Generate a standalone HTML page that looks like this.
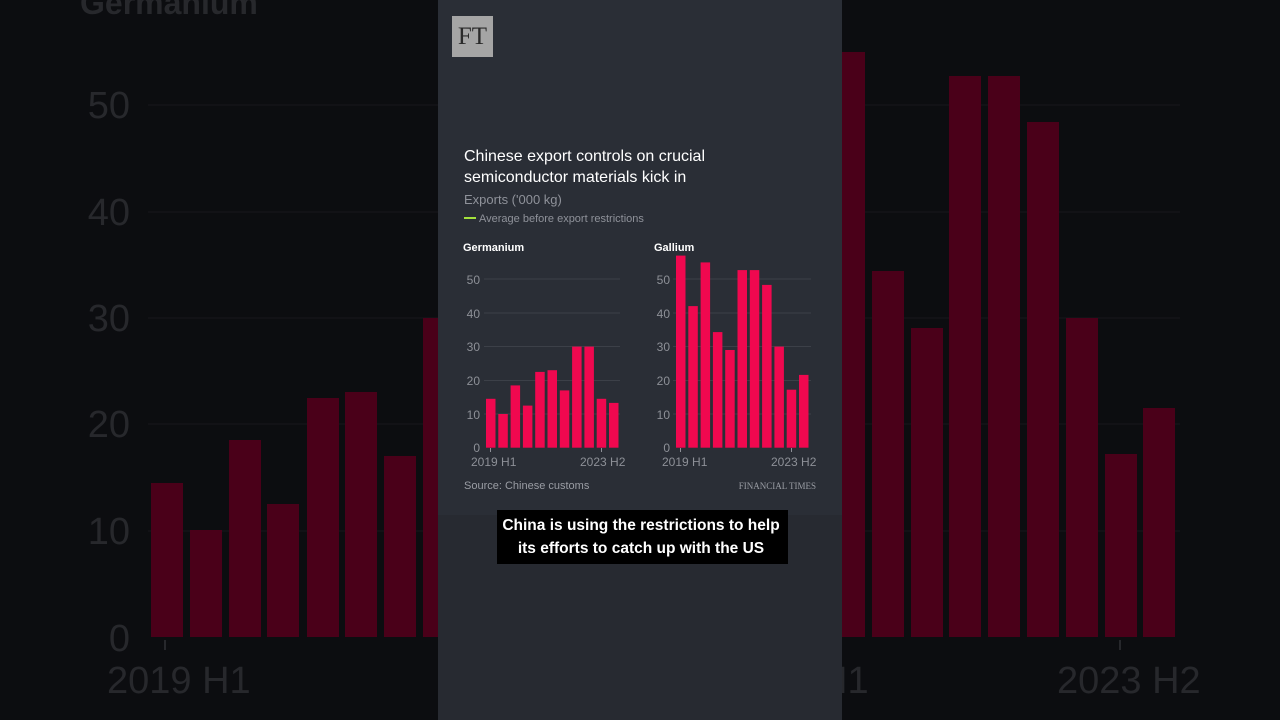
<!DOCTYPE html>
<html><head><meta charset="utf-8"><style>
html,body{margin:0;padding:0;background:#0c0d10;}
svg{display:block;font-family:"Liberation Sans",sans-serif;}
</style></head><body>
<svg width="1280" height="720" viewBox="0 0 1280 720" xmlns="http://www.w3.org/2000/svg">
<rect width="1280" height="720" fill="#0c0d10"/>
<g stroke="#17181b" stroke-width="1">
<line x1="148" x2="438" y1="105" y2="105"/><line x1="148" x2="438" y1="212" y2="212"/><line x1="148" x2="438" y1="318" y2="318"/><line x1="148" x2="438" y1="424" y2="424"/><line x1="148" x2="438" y1="531" y2="531"/>
<line x1="842" x2="1180" y1="105" y2="105"/><line x1="842" x2="1180" y1="212" y2="212"/><line x1="842" x2="1180" y1="318" y2="318"/><line x1="842" x2="1180" y1="424" y2="424"/><line x1="842" x2="1180" y1="531" y2="531"/>
</g>
<g fill="#27282c" font-size="38">
<text x="130" y="118" text-anchor="end">50</text>
<text x="130" y="225" text-anchor="end">40</text>
<text x="130" y="331" text-anchor="end">30</text>
<text x="130" y="437" text-anchor="end">20</text>
<text x="130" y="544" text-anchor="end">10</text>
<text x="130" y="651" text-anchor="end">0</text>
<text x="107" y="693">2019 H1</text>
<text x="1057" y="693">2023 H2</text>
<text x="820" y="693">H1</text>
<text x="80" y="14" font-weight="bold" font-size="32">Germanium</text>
</g>
<g fill="#4a0019">
<rect x="151" y="483" width="32" height="154"/>
<rect x="190" y="530" width="32" height="107"/>
<rect x="229" y="440" width="32" height="197"/>
<rect x="267" y="504" width="32" height="133"/>
<rect x="307" y="398" width="32" height="239"/>
<rect x="345" y="392" width="32" height="245"/>
<rect x="384" y="456" width="32" height="181"/>
<rect x="423" y="318" width="32" height="319"/>
<rect x="833" y="52" width="32" height="585"/>
<rect x="872" y="271" width="32" height="366"/>
<rect x="911" y="328" width="32" height="309"/>
<rect x="949" y="76" width="32" height="561"/>
<rect x="988" y="76" width="32" height="561"/>
<rect x="1027" y="122" width="32" height="515"/>
<rect x="1066" y="318" width="32" height="319"/>
<rect x="1105" y="454" width="32" height="183"/>
<rect x="1143" y="408" width="32" height="229"/>
</g>
<rect x="164" y="640" width="2" height="10" fill="#27282c"/>
<rect x="1119" y="640" width="2" height="10" fill="#27282c"/>
<rect x="438" y="0" width="404" height="720" fill="#272a31"/>
<rect x="438" y="0" width="404" height="515" fill="#2a2e36"/>
<rect x="452" y="16" width="41" height="41" fill="#a5a5a5"/>
<text x="472.5" y="44" text-anchor="middle" font-family="'Liberation Serif',serif" font-size="25" fill="#2a2a2a">FT</text>
<g fill="#ffffff" font-size="16">
<text x="464" y="161">Chinese export controls on crucial</text>
<text x="464" y="182">semiconductor materials kick in</text>
</g>
<text x="464" y="204" font-size="13" fill="#8f929a">Exports ('000 kg)</text>
<rect x="464" y="217" width="12" height="2" fill="#a3e13c"/>
<text x="479" y="222" font-size="11" fill="#8f929a">Average before export restrictions</text>
<text x="463" y="251" font-size="11" font-weight="bold" fill="#ffffff">Germanium</text>
<text x="654" y="251" font-size="11" font-weight="bold" fill="#ffffff">Gallium</text>
<g stroke="#3c4048" stroke-width="1">
<line x1="484" x2="620" y1="279" y2="279"/><line x1="484" x2="620" y1="313" y2="313"/><line x1="484" x2="620" y1="346.5" y2="346.5"/><line x1="484" x2="620" y1="380.5" y2="380.5"/><line x1="484" x2="620" y1="414" y2="414"/>
<line x1="673" x2="811" y1="279" y2="279"/><line x1="673" x2="811" y1="313" y2="313"/><line x1="673" x2="811" y1="346.5" y2="346.5"/><line x1="673" x2="811" y1="380.5" y2="380.5"/><line x1="673" x2="811" y1="414" y2="414"/>
</g>
<g fill="#8d9097" font-size="12">
<text x="480" y="284" text-anchor="end">50</text><text x="480" y="318" text-anchor="end">40</text><text x="480" y="351" text-anchor="end">30</text><text x="480" y="385" text-anchor="end">20</text><text x="480" y="419" text-anchor="end">10</text><text x="480" y="452" text-anchor="end">0</text>
<text x="670" y="284" text-anchor="end">50</text><text x="670" y="318" text-anchor="end">40</text><text x="670" y="351" text-anchor="end">30</text><text x="670" y="385" text-anchor="end">20</text><text x="670" y="419" text-anchor="end">10</text><text x="670" y="452" text-anchor="end">0</text>
<text x="471" y="466">2019 H1</text><text x="580" y="466">2023 H2</text>
<text x="662" y="466">2019 H1</text><text x="771" y="466">2023 H2</text>
</g>
<g fill="#8d9097">
<rect x="490" y="448" width="1" height="4"/><rect x="601" y="448" width="1" height="4"/>
<rect x="680" y="448" width="1" height="4"/><rect x="791" y="448" width="1" height="4"/>
</g>
<g fill="#f0084f">
<rect x="486" y="398.8" width="9.5" height="48.9"/>
<rect x="498.3" y="414" width="9.5" height="33.7"/>
<rect x="510.6" y="385.4" width="9.5" height="62.3"/>
<rect x="522.9" y="405.6" width="9.5" height="42.1"/>
<rect x="535.2" y="371.9" width="9.5" height="75.8"/>
<rect x="547.5" y="370.2" width="9.5" height="77.5"/>
<rect x="559.8" y="390.4" width="9.5" height="57.3"/>
<rect x="572.1" y="346.6" width="9.5" height="101.1"/>
<rect x="584.4" y="346.6" width="9.5" height="101.1"/>
<rect x="596.7" y="398.8" width="9.5" height="48.9"/>
<rect x="609" y="402.9" width="9.5" height="44.8"/>
<rect x="676" y="255.6" width="9.5" height="192.1"/>
<rect x="688.3" y="306.1" width="9.5" height="141.6"/>
<rect x="700.6" y="262.4" width="9.5" height="185.3"/>
<rect x="712.9" y="332.1" width="9.5" height="115.6"/>
<rect x="725.2" y="350" width="9.5" height="97.7"/>
<rect x="737.5" y="270.1" width="9.5" height="177.6"/>
<rect x="749.8" y="270.1" width="9.5" height="177.6"/>
<rect x="762.1" y="284.9" width="9.5" height="162.8"/>
<rect x="774.4" y="346.6" width="9.5" height="101.1"/>
<rect x="786.7" y="389.7" width="9.5" height="58"/>
<rect x="799" y="374.9" width="9.5" height="72.8"/>
</g>
<text x="464" y="489" font-size="11" fill="#9a9da4">Source: Chinese customs</text>
<text x="816" y="489" font-size="9" text-anchor="end" font-family="'Liberation Serif',serif" fill="#9a9da4">FINANCIAL TIMES</text>
<rect x="497" y="510" width="291" height="54" fill="#000000"/>
<g fill="#ffffff" font-size="15.5" font-weight="bold" text-anchor="middle">
<text x="641" y="530">China is using the restrictions to help</text>
<text x="641" y="553">its efforts to catch up with the US</text>
</g>
</svg>
</body></html>
